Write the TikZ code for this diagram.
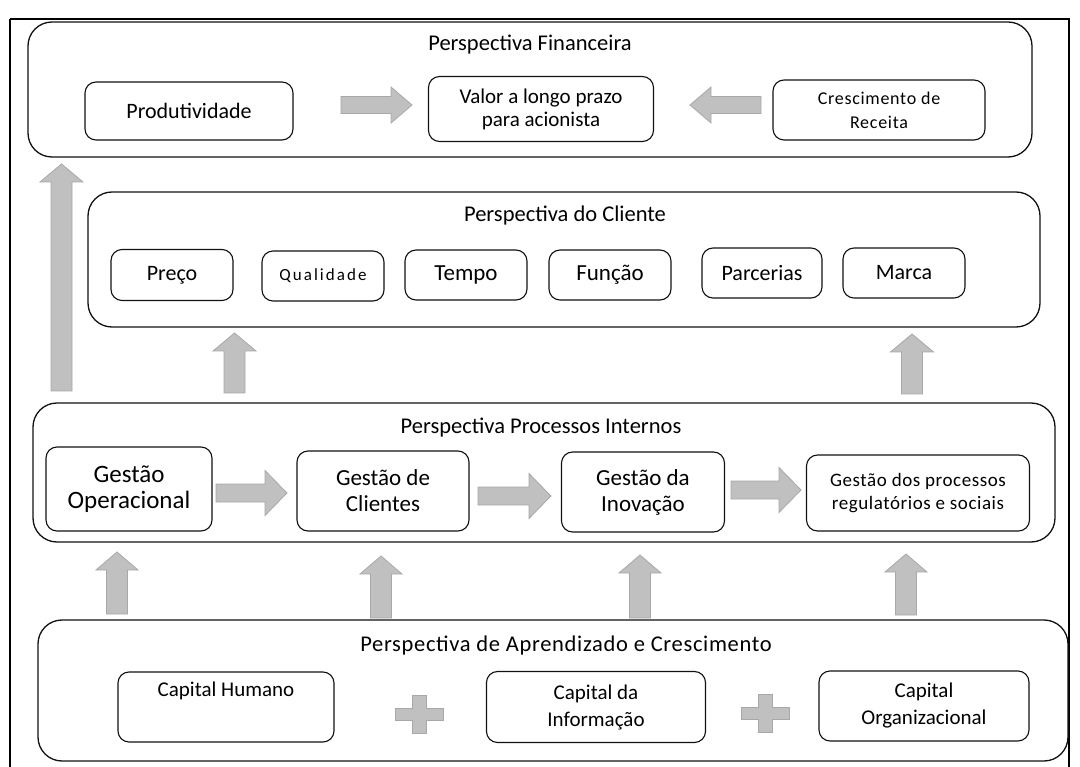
\documentclass[tikz,border=0pt]{standalone}
\usepackage{fontspec}
\setmainfont{Carlito}
\definecolor{arrowgray}{HTML}{C0C0C0}
\definecolor{arrowedge}{HTML}{A8A8A8}
\definecolor{ink}{HTML}{111111}

% horizontal block arrow: tail x, tip x, centre y, shaft half-height, head half-height, head length
\newcommand\harrow[6]{%
  \pgfmathsetmacro\hbase{#2-sign(#2-#1)*#6}%
  \draw[garrow] (#1,#3-#4) -- (\hbase,#3-#4) -- (\hbase,#3-#5) -- (#2,#3)
    -- (\hbase,#3+#5) -- (\hbase,#3+#4) -- (#1,#3+#4) -- cycle;}
% upward block arrow: centre x, tail y, tip y, shaft half-width, head half-width, head length
\newcommand\uarrow[6]{%
  \pgfmathsetmacro\hbase{#3+#6}%
  \draw[garrow] (#1-#4,#2) -- (#1-#4,\hbase) -- (#1-#5,\hbase) -- (#1,#3)
    -- (#1+#5,\hbase) -- (#1+#4,\hbase) -- (#1+#4,#2) -- cycle;}
% plus sign: centre x, centre y
\newcommand\plussign[2]{%
  \draw[garrow] (#1-7,#2-19) -- (#1+7,#2-19) -- (#1+7,#2-6) -- (#1+24,#2-6)
    -- (#1+24,#2+6) -- (#1+7,#2+6) -- (#1+7,#2+19) -- (#1-7,#2+19)
    -- (#1-7,#2+6) -- (#1-24,#2+6) -- (#1-24,#2-6) -- (#1-7,#2-6) -- cycle;}
\newcommand\fs[2]{\fontsize{#1}{#2}\selectfont}

\begin{document}
\begin{tikzpicture}[x=1pt,y=-1pt,
  panel/.style={draw=ink, line width=1.3pt, rounded corners=24pt, inner sep=0pt},
  item/.style={draw=ink, line width=1.1pt, rounded corners=11pt, align=center, inner sep=0pt},
  ptitle/.style={inner sep=0pt, font=\fs{22.5}{26}},
  garrow/.style={fill=arrowgray, draw=arrowedge, line width=0.8pt, line join=miter}]
\useasboundingbox (0,0) rectangle (1080,767);
\fill[white] (0,0) rectangle (1080,767);

% outer frame
\draw[line width=1.3pt] (10,19) -- (10,790) (10,19) -- (1069,19) -- (1069,790);

% ---- financial perspective
\node[panel, minimum width=1004pt, minimum height=135pt] (fin) at (530,89.5) {};
\node[ptitle] (fint) at (530,45) {Perspectiva Financeira};
\node[item, font=\fs{22}{26}, minimum width=208pt, minimum height=58pt] (prod) at (189,111) {Produtividade};
\node[item, font=\fs{21}{23}, minimum width=225pt, minimum height=65pt] (valor) at (541,109) {Valor a longo prazo\\para acionista};
\node[item, font=\fs{18}{24}\addfontfeature{LetterSpace=4}, minimum width=212pt, minimum height=60pt] (cresc) at (879,110) {Crescimento de\\Receita};
\harrow{341}{412}{105}{8.5}{18}{21}
\harrow{761}{690}{105}{8.5}{18}{21}

% tall arrow up to the financial perspective
\uarrow{61.5}{391}{164}{10.5}{21.5}{18}

% ---- customer perspective
\node[panel, minimum width=952pt, minimum height=135pt] (cli) at (564,259.5) {};
\node[ptitle] (clit) at (565,216) {Perspectiva do Cliente};
\node[item, font=\fs{22}{26}, minimum width=122pt, minimum height=51pt] (preco) at (172,275) {Preço};
\node[item, font=\fs{17}{20}\addfontfeature{LetterSpace=12}, minimum width=122pt, minimum height=50pt] (qual) at (323,276) {Qualidade};
\node[item, font=\fs{23}{26}, minimum width=122pt, minimum height=50pt] (tempo) at (466,275) {Tempo};
\node[item, font=\fs{23}{26}, minimum width=122pt, minimum height=50pt] (funcao) at (610,275) {Função};
\node[item, font=\fs{22}{26}, minimum width=120pt, minimum height=50pt] (parc) at (762,273) {Parcerias};
\node[item, font=\fs{22}{26}, minimum width=122pt, minimum height=50pt] (marca) at (904,273) {Marca};

\uarrow{234.5}{393}{333}{10.5}{21.5}{18}
\uarrow{912}{394}{334}{10.5}{21.5}{18}

% ---- internal process perspective
\node[panel, minimum width=1022pt, minimum height=139pt] (proc) at (544,472.5) {};
\node[ptitle] (proct) at (541,428) {Perspectiva Processos Internos};
\node[item, font=\fs{25}{26}, minimum width=166pt, minimum height=84pt] (gop) at (129,489) {Gestão\\Operacional};
\node[item, font=\fs{23}{26}, minimum width=172pt, minimum height=80pt] (gcli) at (383,491) {Gestão de\\Clientes};
\node[item, font=\fs{23}{26}, minimum width=163pt, minimum height=80pt] (ginov) at (643,492) {Gestão da\\Inovação};
\node[item, font=\fs{19}{23}\addfontfeature{LetterSpace=3}, minimum width=223pt, minimum height=76pt] (greg) at (918,493) {Gestão dos processos\\regulatórios e sociais};
\harrow{216}{287}{493}{9}{22.5}{22}
\harrow{478}{551}{496}{9}{22.5}{22}
\harrow{731}{801}{490}{9}{22.5}{22}

\uarrow{117}{614}{552}{10.5}{21}{18}
\uarrow{381}{618}{556}{10.5}{21}{18}
\uarrow{640}{618}{555}{10.5}{21}{18}
\uarrow{906}{615}{554}{10.5}{21}{18}

% ---- learning and growth perspective
\node[panel, minimum width=1030pt, minimum height=141pt] (apr) at (553,690.5) {};
\node[ptitle, font=\fs{22.5}{26}\addfontfeature{LetterSpace=3}] (aprt) at (566,645) {Perspectiva de Aprendizado e Crescimento};
\node[item, font=\fs{21}{28}, minimum width=216pt, minimum height=70pt] (chum) at (226,707) {Capital Humano\\\strut};
\node[item, font=\fs{21}{27}, minimum width=219pt, minimum height=71pt] (cinf) at (596,707) {Capital da\\Informação};
\node[item, font=\fs{21}{27}, minimum width=210pt, minimum height=70pt] (corg) at (924,706) {Capital\\Organizacional};
\plussign{419}{714}
\plussign{765}{713}
\end{tikzpicture}
\end{document}
